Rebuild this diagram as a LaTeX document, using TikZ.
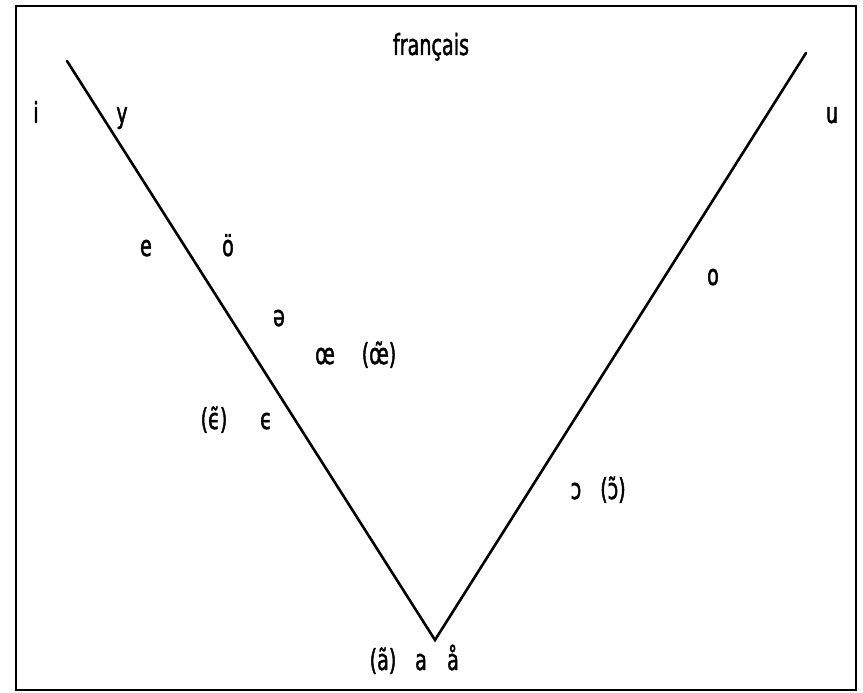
\documentclass[tikz,border=0pt]{standalone}
\usepackage{fontspec}
\setmainfont{DejaVu Sans}[FakeStretch=0.66, FakeBold=1.5]
\usetikzlibrary{positioning}

\begin{document}
\begin{tikzpicture}[
    x=1pt, y=-1pt,
    vowel/.style={
        inner sep=0pt,
        anchor=base,
        font=\fontsize{29}{33}\selectfont
    },
    side/.style={line width=2.6pt, line cap=round}
]
\useasboundingbox (0,0) rectangle (863,693);

% frame
\draw[line width=2.8pt] (16,6) rectangle (856,690);

% corners of the V
\coordinate (front) at (67,61);
\coordinate (back) at (806,53);
\coordinate (open) at (435,640);

\node[vowel] (title) at (431,55) {français};

% front vowels
\node[vowel] (i) at (36,123) {i};
\node[vowel] (y) at (122,123) {y};
\node[vowel] (e) at (146,256) {e};
\node[vowel] (oe) at (228,256) {ö};
\node[vowel] (schwa) at (279,326) {ə};
\node[vowel] (oelig) at (325,364) {œ};
\node[vowel] (oenas) at (379,364) {(œ̃)};
\node[vowel] (epsnas) at (214,429) {(ϵ̃)};
\node[vowel] (eps) at (266,429) {ϵ};

% back vowels
\node[vowel] (u) at (832,123) {u};
\node[vowel] (o) at (713,285) {o};
\node[vowel] (oopen) at (576,499) {ɔ};
\node[vowel] (onas) at (613,499) {(ɔ̃)};

% open vowels
\node[vowel] (anas) at (383,670) {(ã)};
\node[vowel] (a) at (421,670) {a};
\node[vowel] (aring) at (453,670) {å};

% the two sides
\draw[side] (front) -- (open) -- (back);

\end{tikzpicture}
\end{document}
